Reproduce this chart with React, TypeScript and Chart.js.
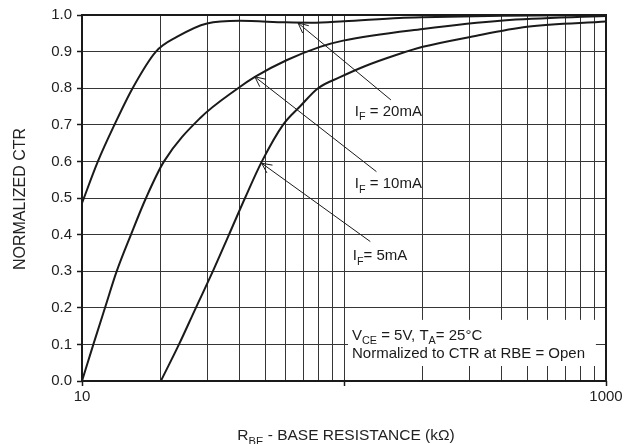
import React, { useEffect, useRef } from 'react';
import { Chart, registerables } from 'chart.js';

Chart.register(...registerables);

const FONT = '"Liberation Sans", Arial, Helvetica, sans-serif';
const INK = '#1a1a1a';
const GRID = '#363636';

// Axis ticks
const X_TICKS = [10, 20, 30, 40, 50, 60, 70, 80, 90, 100, 200, 300, 400, 500, 600, 700, 800, 900, 1000];
const X_MAJOR = [10, 100, 1000];
const X_LABELED = [10, 1000];
const Y_TICKS = [0, 0.1, 0.2, 0.3, 0.4, 0.5, 0.6, 0.7, 0.8, 0.9, 1.0];

// I_F = 20mA
const IF20_X = [10, 11.5, 13.3, 15.6, 19.15, 23, 30, 40, 60, 75, 100, 163, 200, 400, 1000];
const IF20_Y = [0.486, 0.6, 0.7, 0.8, 0.9, 0.94, 0.977, 0.984, 0.98, 0.979, 0.983, 0.992, 0.994, 0.998, 1.0];

// I_F = 10mA
const IF10_X = [10, 11.05, 12.24, 13.57, 15.38, 17.55, 20.56, 28.2, 39.4, 45.7, 60.6, 81, 99.3, 200, 405, 1000];
const IF10_Y = [0, 0.1, 0.2, 0.3, 0.4, 0.5, 0.6, 0.718, 0.8, 0.831, 0.877, 0.913, 0.93, 0.962, 0.985, 0.997];

// I_F = 5mA
const IF5_X = [20, 23.45, 27.2, 31.6, 36.4, 41.9, 48.6, 58.5, 67.9, 79.6, 96.5, 120, 157, 200, 303, 500, 1000];
const IF5_Y = [0, 0.1, 0.2, 0.3, 0.4, 0.5, 0.6, 0.7, 0.75, 0.8, 0.83, 0.86, 0.89, 0.913, 0.94, 0.968, 0.982];

// Annotation anchors (data units)
type Seg = { t: string; sub?: boolean };
const ARROW_LABELS: Seg[][] = [
  [{ t: 'I' }, { t: 'F', sub: true }, { t: ' = 20mA' }],
  [{ t: 'I' }, { t: 'F', sub: true }, { t: ' = 10mA' }],
  [{ t: 'I' }, { t: 'F', sub: true }, { t: '= 5mA' }],
];
const ARROW_TIP_X = [66.8, 45.7, 48.5];
const ARROW_TIP_Y = [0.978, 0.831, 0.595];
const ARROW_TAIL_X = [151, 133, 126];
const ARROW_TAIL_Y = [0.768, 0.572, 0.381];
const LABEL_X = [110, 110, 108];
const LABEL_Y = [0.74, 0.541, 0.344];

const NOTE_BOX_X = [103.6, 915];
const NOTE_BOX_Y = [0.041, 0.167];
const NOTE_LINE1: Seg[] = [{ t: 'V' }, { t: 'CE', sub: true }, { t: ' = 5V, T' }, { t: 'A', sub: true }, { t: '= 25°C' }];
const NOTE_LINE2: Seg[] = [{ t: 'Normalized to CTR at RBE = Open' }];

const X_TITLE: Seg[] = [{ t: 'R' }, { t: 'BE', sub: true }, { t: ' - BASE RESISTANCE (kΩ)' }];
const Y_TITLE = 'NORMALIZED CTR';

function zip(xs: number[], ys: number[]) {
  return xs.map((x, i) => ({ x, y: ys[i] }));
}

function drawRich(ctx: CanvasRenderingContext2D, segs: Seg[], x: number, baseline: number, size: number, align: 'left' | 'center') {
  const sub = size * 0.72;
  const widths = segs.map((s) => {
    ctx.font = `${s.sub ? sub : size}px ${FONT}`;
    return ctx.measureText(s.t).width;
  });
  const total = widths.reduce((a, b) => a + b, 0);
  let cx = align === 'center' ? x - total / 2 : x;
  ctx.textAlign = 'left';
  ctx.textBaseline = 'alphabetic';
  segs.forEach((s, i) => {
    ctx.font = `${s.sub ? sub : size}px ${FONT}`;
    ctx.fillText(s.t, cx, baseline + (s.sub ? size * 0.3 : 0));
    cx += widths[i];
  });
}

const overlay = {
  id: 'overlay',
  afterDatasetsDraw(chart: any) {
    const { ctx, chartArea: a, scales } = chart;
    const xs = scales.x;
    const ys = scales.y;
    ctx.save();
    // note box
    const bx0 = xs.getPixelForValue(NOTE_BOX_X[0]);
    const bx1 = xs.getPixelForValue(NOTE_BOX_X[1]);
    const by0 = ys.getPixelForValue(NOTE_BOX_Y[1]);
    const by1 = ys.getPixelForValue(NOTE_BOX_Y[0]);
    ctx.fillStyle = '#ffffff';
    ctx.fillRect(bx0, by0, bx1 - bx0, by1 - by0);
    ctx.fillStyle = INK;
    drawRich(ctx, NOTE_LINE1, bx0 + 4, by0 + 20, 15, 'left');
    drawRich(ctx, NOTE_LINE2, bx0 + 4, by0 + 38.5, 15, 'left');

    // arrows
    ctx.strokeStyle = INK;
    ctx.lineWidth = 1;
    for (let i = 0; i < ARROW_TIP_X.length; i++) {
      const tx = xs.getPixelForValue(ARROW_TIP_X[i]);
      const ty = ys.getPixelForValue(ARROW_TIP_Y[i]);
      const sx = xs.getPixelForValue(ARROW_TAIL_X[i]);
      const sy = ys.getPixelForValue(ARROW_TAIL_Y[i]);
      ctx.beginPath();
      ctx.moveTo(sx, sy);
      ctx.lineTo(tx, ty);
      const ang = Math.atan2(sy - ty, sx - tx);
      const len = 11;
      const spread = 0.45;
      ctx.moveTo(tx + len * Math.cos(ang - spread), ty + len * Math.sin(ang - spread));
      ctx.lineTo(tx, ty);
      ctx.lineTo(tx + len * Math.cos(ang + spread), ty + len * Math.sin(ang + spread));
      ctx.stroke();
      const lx = xs.getPixelForValue(LABEL_X[i]);
      const ly = ys.getPixelForValue(LABEL_Y[i]);
      ctx.fillStyle = INK;
      drawRich(ctx, ARROW_LABELS[i], lx, ly + 5.4, 15, 'left');
    }

    // frame
    ctx.strokeStyle = INK;
    ctx.lineWidth = 2;
    ctx.strokeRect(a.left, a.top, a.right - a.left, a.bottom - a.top);

    // axis titles
    ctx.fillStyle = '#222';
    drawRich(ctx, X_TITLE, (a.left + a.right) / 2 + 2, 440, 15.5, 'center');
    ctx.translate(21, (a.top + a.bottom) / 2 + 1);
    ctx.rotate(-Math.PI / 2);
    ctx.font = `16px ${FONT}`;
    ctx.textAlign = 'center';
    ctx.textBaseline = 'middle';
    ctx.fillText(Y_TITLE, 0, 0);
    ctx.restore();
  },
};

export default function App() {
  const ref = useRef<HTMLCanvasElement | null>(null);
  useEffect(() => {
    if (!ref.current) return;
    const lineStyle = {
      borderColor: INK,
      borderWidth: 2,
      pointRadius: 0,
      fill: false,
      cubicInterpolationMode: 'monotone' as const,
    };
    const chart = new Chart(ref.current, {
      type: 'line',
      data: {
        datasets: [
          { label: '20mA', data: zip(IF20_X, IF20_Y), ...lineStyle },
          { label: '10mA', data: zip(IF10_X, IF10_Y), ...lineStyle },
          { label: '5mA', data: zip(IF5_X, IF5_Y), ...lineStyle },
        ],
      },
      options: {
        responsive: false,
        animation: false,
        devicePixelRatio: 1,
        layout: { padding: { top: 15, right: 23, bottom: 0, left: 0 } },
        plugins: { legend: { display: false }, tooltip: { enabled: false } },
        scales: {
          x: {
            type: 'logarithmic',
            min: 10,
            max: 1000,
            afterBuildTicks: (s: any) => {
              s.ticks = X_TICKS.map((v) => ({ value: v, major: X_MAJOR.includes(v) }));
            },
            afterFit: (s: any) => {
              s.height = 63;
            },
            border: { display: false },
            grid: {
              color: GRID,
              lineWidth: 1,
              tickLength: 5,
              tickWidth: 1.5,
              tickColor: (c: any) => (c.tick && X_MAJOR.includes(c.tick.value) ? INK : 'rgba(0,0,0,0)'),
            },
            ticks: {
              autoSkip: false,
              maxRotation: 0,
              padding: 2,
              color: '#222',
              font: { family: FONT, size: 15 },
              callback: (v: any) => (X_LABELED.includes(Number(v)) ? String(v) : ''),
            },
          },
          y: {
            min: 0,
            max: 1,
            afterBuildTicks: (s: any) => {
              s.ticks = Y_TICKS.map((v) => ({ value: v }));
            },
            afterFit: (s: any) => {
              s.width = 82;
            },
            border: { display: false },
            grid: {
              color: GRID,
              lineWidth: 1,
              tickLength: 5,
              tickWidth: 1.5,
              tickColor: INK,
            },
            ticks: {
              padding: 5,
              color: '#222',
              font: { family: FONT, size: 15 },
              callback: (v: any) => Number(v).toFixed(1),
            },
          },
        },
      },
      plugins: [overlay],
    });
    return () => chart.destroy();
  }, []);
  return (
    <div style={{ position: 'absolute', left: 0, top: 0, width: 629, height: 444, background: '#fff' }}>
      <canvas ref={ref} width={629} height={444} style={{ width: 629, height: 444, display: 'block' }} />
    </div>
  );
}
